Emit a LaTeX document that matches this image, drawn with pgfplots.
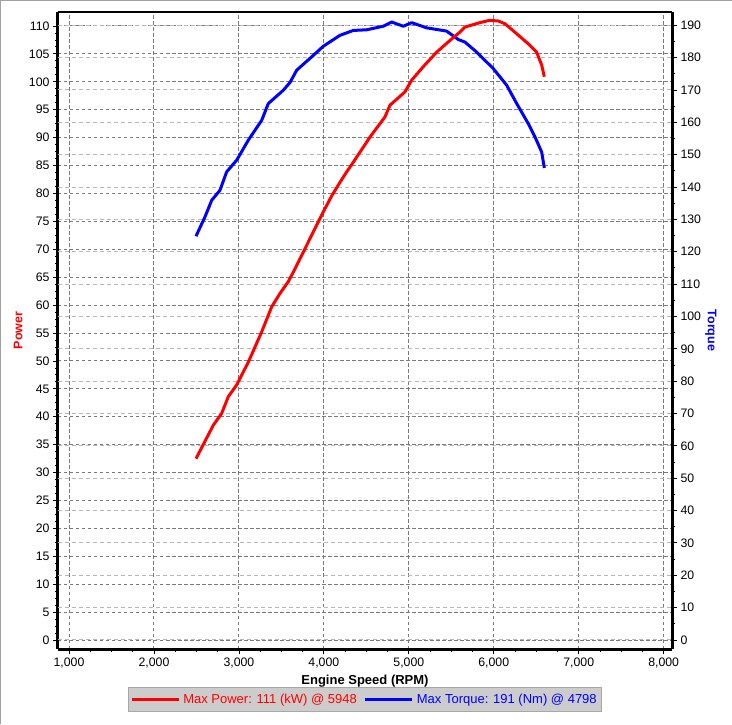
\documentclass[border=0pt]{standalone}
\usepackage{pgfplots}
\pgfplotsset{compat=1.18}
\usepackage{fontspec}
\setmainfont{Liberation Sans}
\definecolor{darkgrid}{HTML}{7A7A7A}
\definecolor{lightgrid}{HTML}{B8B8B8}
\definecolor{legfill}{HTML}{CCCCCC}
\definecolor{legdraw}{HTML}{A8A8A8}
\definecolor{frame}{HTML}{A0A0A0}
\pgfplotsset{
  base/.style={
    scale only axis, width=614pt, height=637pt,
    xmin=870.5, xmax=8098,
    scaled ticks=false,
    /pgf/number format/assume math mode=true,
    /pgf/number format/1000 sep={,},
    ticklabel style={font=\fontsize{12.3}{14}\selectfont},
    tick align=outside,
    major tick length=5pt, minor tick length=3pt,
    every tick/.style={black, line width=0.8pt},
  },
}
\begin{document}
\begin{tikzpicture}
\path[use as bounding box] (-58pt,-75pt) rectangle (674pt,649pt);
\draw[frame, line width=3pt] (-58pt,-75pt) -- (-58pt,649pt) -- (674pt,649pt);
% left axis: power scale, dark grid
\begin{axis}[base,
  ymin=-1.6, ymax=112.5,
  axis x line*=bottom, axis y line*=left,
  x axis line style={line width=3pt,-},
  y axis line style={line width=3pt,-},
  xtick={1000,2000,...,8000}, minor x tick num=3,
  ytick={0,5,...,110}, minor y tick num=3,
  xmajorgrids, ymajorgrids,
  major grid style={darkgrid, dash pattern=on 3.5pt off 2.5pt, line width=1pt},
  xlabel={Engine Speed (RPM)},
  xlabel style={at={(axis description cs:0.5,-0.0502)}, anchor=center,
    font=\fontsize{13}{15}\selectfont\bfseries},
  ylabel={Power},
  ylabel style={at={(axis description cs:-0.0651,0.5)}, anchor=center,
    text=red, font=\fontsize{12.5}{14}\selectfont\bfseries},
]
\end{axis}
% right axis: torque scale, light grid, torque curve
\begin{axis}[base,
  ymin=-2.8, ymax=194.1,
  axis x line*=top, axis y line*=right,
  x axis line style={line width=1.5pt,-},
  y axis line style={line width=3pt,-},
  xtick=\empty,
  ytick={0,10,...,190}, minor y tick num=1,
  ymajorgrids,
  major grid style={lightgrid, dash pattern=on 4pt off 3pt, line width=1pt},
  ylabel={Torque},
  ylabel style={at={(axis description cs:1.0635,0.5)}, anchor=center, rotate=180,
    text=blue, font=\fontsize{12.5}{14}\selectfont\bfseries},
]
\addplot[blue, line width=3pt, line join=round] coordinates {
(2495,124.8) (2601,130.8) (2680,135.9) (2777,139.0) (2856,144.7) (2974,148.3)
(3111,154.5) (3268,160.6) (3346,165.8) (3522,169.9) (3601,172.3) (3680,176.1)
(3876,180.7) (3993,183.5) (4190,186.9) (4347,188.4) (4504,188.6) (4700,189.7)
(4798,191.0) (4935,189.7) (5034,190.8) (5210,189.2) (5445,188.2) (5582,185.6)
(5661,184.8) (5799,181.7) (5994,176.6) (6151,171.5) (6270,165.8) (6406,159.6)
(6485,155.5) (6564,150.8) (6595,145.9)
};
\end{axis}
% power curve and legend
\begin{axis}[base,
  ymin=-1.6, ymax=112.5,
  hide axis,
  legend columns=2,
  legend style={at={(axis description cs:0.5,-0.0793)}, anchor=center,
    fill=legfill, draw=legdraw, line width=1pt,
    font=\fontsize{13}{15}\selectfont,
    inner xsep=2pt, inner ysep=3pt,
    /tikz/every even column/.append style={column sep=4pt},
    nodes={inner xsep=3pt, inner ysep=4pt}},
  legend image code/.code={\draw[#1] (0pt,0pt) -- (47pt,0pt);},
]
\addplot[red, line width=3pt, line join=round] coordinates {
(2495,32.5) (2699,38.5) (2797,40.6) (2875,43.6) (2974,45.7) (3111,49.8)
(3268,55.2) (3386,59.7) (3484,62.1) (3581,64.2) (3640,65.9) (3758,69.5)
(3993,76.7) (4090,79.5) (4190,82.0) (4270,83.9) (4347,85.6) (4543,90.1)
(4719,93.7) (4778,95.8)
(4955,98.2) (5034,100.3) (5170,102.7) (5327,105.3) (5484,107.4) (5602,108.9)
(5661,109.8) (5838,110.6) (5948,111.0) (6050,110.9) (6132,110.4) (6270,108.6)
(6406,106.8) (6505,105.3) (6564,103.0) (6595,100.9)
};
\addlegendentry{\textcolor{red}{Max Power: 111 (kW) @ 5948}}
\addlegendimage{blue, line width=3pt}
\addlegendentry{\textcolor{blue}{Max Torque: 191 (Nm) @ 4798}}
\end{axis}
\end{tikzpicture}
\end{document}
